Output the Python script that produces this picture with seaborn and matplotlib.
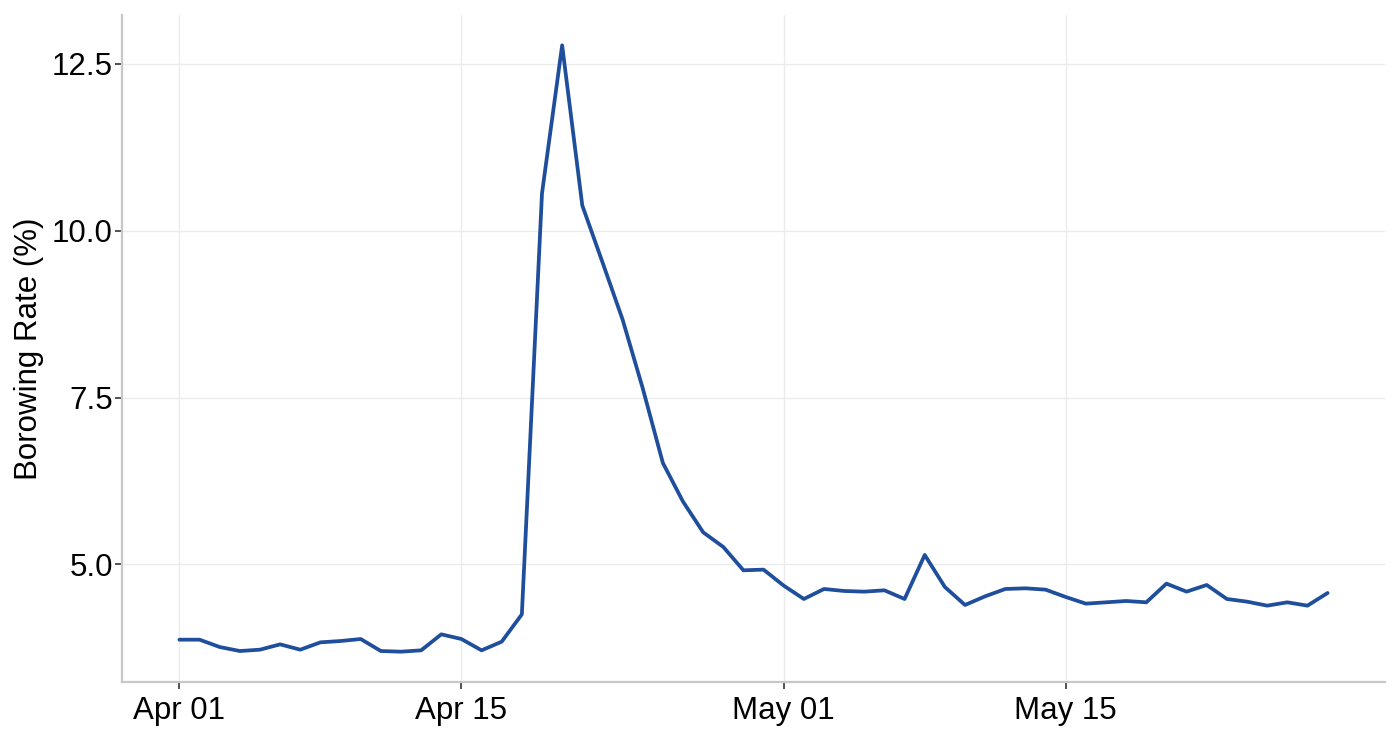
import matplotlib
matplotlib.use("Agg")
import matplotlib.pyplot as plt
import matplotlib.dates as mdates
import seaborn as sns
import pandas as pd
import numpy as np

start_date = "2024-04-01"
n_days = 58
rates = [
    3.87, 3.87, 3.76, 3.70, 3.72, 3.80, 3.72, 3.83, 3.85, 3.88,
    3.70, 3.69, 3.71, 3.95, 3.88, 3.71, 3.84, 4.25, 10.56, 12.78,
    10.38, 9.53, 8.67, 7.64, 6.52, 5.94, 5.48, 5.26, 4.91, 4.92,
    4.68, 4.48, 4.63, 4.60, 4.59, 4.61, 4.48, 5.14, 4.66, 4.39,
    4.52, 4.63, 4.64, 4.62, 4.51, 4.41, 4.43, 4.45, 4.43, 4.71,
    4.59, 4.69, 4.48, 4.44, 4.38, 4.43, 4.38, 4.57,
]
tick_dates = ["2024-04-01", "2024-04-15", "2024-05-01", "2024-05-15"]
y_ticks = [5.0, 7.5, 10.0, 12.5]
y_label = "Borowing Rate (%)"

dates = pd.date_range(start_date, periods=n_days, freq="D")
df = pd.DataFrame({"date": dates, "rate": rates})

sns.set_theme(style="white")
plt.rcParams["font.family"] = ["Liberation Sans", "DejaVu Sans"]

fig = plt.figure(figsize=(14, 7.4), dpi=100)
ax = fig.add_axes([122/1400, 1 - 682/740, (1385-122)/1400, (682-15)/740])

sns.lineplot(data=df, x="date", y="rate", ax=ax, color="#1f4e9c", linewidth=2.7)

# ggplot-like expansion
xn = mdates.date2num(dates)
xr = xn.max() - xn.min()
ax.set_xlim(xn.min() - 0.05 * xr, xn.max() + 0.05 * xr)
yr = max(rates) - min(rates)
ax.set_ylim(min(rates) - 0.05 * yr, max(rates) + 0.05 * yr)

ax.set_xticks(pd.to_datetime(tick_dates))
ax.xaxis.set_major_formatter(mdates.DateFormatter("%b %d"))
ax.set_yticks(y_ticks)
ax.set_yticklabels([f"{v:.1f}" for v in y_ticks])

ax.grid(True, color="#ebebeb", linewidth=1.0)
ax.set_axisbelow(True)
for s in ["top", "right"]:
    ax.spines[s].set_visible(False)
for s in ["left", "bottom"]:
    ax.spines[s].set_color("#c8c8c8")
    ax.spines[s].set_linewidth(1.6)

ax.tick_params(axis="both", which="major", length=5, width=1.2, color="#333333",
               labelsize=22.5, labelcolor="black", bottom=True, left=True)
ax.tick_params(axis="y", pad=1.5)
ax.tick_params(axis="x", pad=5)
ax.set_xlabel("")
ax.set_ylabel(y_label, fontsize=22.5, color="black", labelpad=6)

fig.savefig("out.png", dpi=100)
